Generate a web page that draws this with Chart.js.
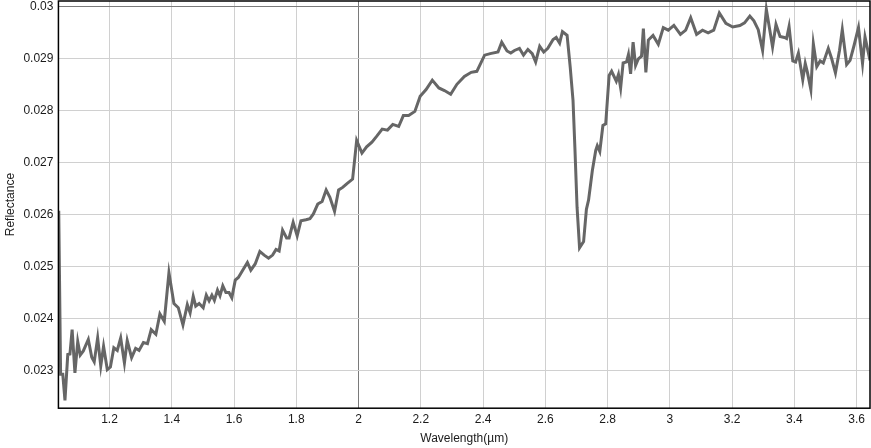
<!DOCTYPE html>
<html>
<head>
<meta charset="utf-8">
<script src="https://cdn.jsdelivr.net/npm/chart.js@4/dist/chart.umd.min.js"></script>
<style>
  html, body { margin: 0; padding: 0; background: #fff; }
  #wrap { width: 871px; height: 448px; }
</style>
</head>
<body>
<div id="wrap"><canvas id="spectrum" width="871" height="448"></canvas></div>
<script>
// Reflectance spectrum

const wavelength = [
  1.037, 1.043, 1.050, 1.057, 1.066, 1.073, 1.080, 1.089, 1.098, 1.106,
  1.116, 1.124, 1.132, 1.143, 1.151, 1.162, 1.172, 1.181, 1.193, 1.203,
  1.214, 1.225, 1.236, 1.248, 1.257, 1.271, 1.284, 1.295, 1.309, 1.322,
  1.334, 1.349, 1.362, 1.376, 1.391, 1.407, 1.421, 1.436, 1.450, 1.459,
  1.469, 1.477, 1.488, 1.501, 1.511, 1.520, 1.529, 1.537, 1.547, 1.555,
  1.564, 1.574, 1.584, 1.593, 1.604, 1.614, 1.627, 1.643, 1.654, 1.668,
  1.683, 1.697, 1.711, 1.724, 1.735, 1.745, 1.756, 1.769, 1.777, 1.790,
  1.803, 1.815, 1.831, 1.844, 1.855, 1.869, 1.883, 1.896, 1.908, 1.923,
  1.936, 1.949, 1.962, 1.981, 1.994, 2.011, 2.026, 2.043, 2.058, 2.076,
  2.093, 2.110, 2.129, 2.144, 2.161, 2.181, 2.198, 2.217, 2.237, 2.258,
  2.276, 2.296, 2.316, 2.340, 2.362, 2.380, 2.405, 2.423, 2.448, 2.460,
  2.477, 2.489, 2.501, 2.517, 2.530, 2.544, 2.558, 2.569, 2.582, 2.595,
  2.608, 2.625, 2.635, 2.646, 2.655, 2.670, 2.680, 2.689, 2.695, 2.702,
  2.710, 2.723, 2.732, 2.739, 2.751, 2.762, 2.767, 2.775, 2.785, 2.794,
  2.805, 2.813, 2.828, 2.835, 2.842, 2.850, 2.861, 2.867, 2.874, 2.882,
  2.890, 2.899, 2.909, 2.915, 2.923, 2.931, 2.946, 2.963, 2.979, 2.995,
  3.013, 3.034, 3.051, 3.067, 3.086, 3.105, 3.123, 3.141, 3.159, 3.180,
  3.202, 3.225, 3.240, 3.257, 3.270, 3.284, 3.298, 3.310, 3.322, 3.330,
  3.341, 3.354, 3.368, 3.375, 3.383, 3.395, 3.404, 3.413, 3.427, 3.435,
  3.442, 3.453, 3.461, 3.472, 3.483, 3.493, 3.509, 3.520, 3.532, 3.545,
  3.554, 3.568, 3.579, 3.592, 3.606, 3.619, 3.627, 3.643
];

const reflectance = [
  0.02607, 0.02293, 0.02293, 0.02243, 0.02331, 0.02332, 0.02379, 0.02296, 0.02356, 0.02330,
  0.02338, 0.02349, 0.02360, 0.02326, 0.02317, 0.02363, 0.02309, 0.02347, 0.02302, 0.02307,
  0.02344, 0.02339, 0.02363, 0.02315, 0.02358, 0.02325, 0.02343, 0.02339, 0.02354, 0.02352,
  0.02379, 0.02370, 0.02409, 0.02395, 0.02488, 0.02429, 0.02421, 0.02388, 0.02427, 0.02411,
  0.02443, 0.02424, 0.02429, 0.02421, 0.02445, 0.02434, 0.02445, 0.02435, 0.02455, 0.02444,
  0.02463, 0.02450, 0.02450, 0.02440, 0.02474, 0.02479, 0.02492, 0.02508, 0.02493, 0.02505,
  0.02529, 0.02522, 0.02516, 0.02522, 0.02533, 0.02530, 0.02570, 0.02555, 0.02555, 0.02585,
  0.02559, 0.02588, 0.02590, 0.02592, 0.02601, 0.02620, 0.02625, 0.02647, 0.02633, 0.02606,
  0.02647, 0.02652, 0.02659, 0.02668, 0.02742, 0.02718, 0.02730, 0.02739, 0.02750, 0.02764,
  0.02762, 0.02773, 0.02769, 0.02790, 0.02790, 0.02798, 0.02827, 0.02840, 0.02858, 0.02843,
  0.02838, 0.02831, 0.02850, 0.02865, 0.02873, 0.02875, 0.02906, 0.02909, 0.02912, 0.02931,
  0.02914, 0.02910, 0.02915, 0.02919, 0.02906, 0.02917, 0.02909, 0.02893, 0.02923, 0.02912,
  0.02919, 0.02936, 0.02940, 0.02929, 0.02951, 0.02944, 0.02883, 0.02819, 0.02729, 0.02614,
  0.02536, 0.02548, 0.02610, 0.02628, 0.02684, 0.02723, 0.02732, 0.02721, 0.02771, 0.02774,
  0.02867, 0.02875, 0.02856, 0.02869, 0.02843, 0.02891, 0.02893, 0.02907, 0.02870, 0.02931,
  0.02886, 0.02899, 0.02904, 0.02957, 0.02873, 0.02935, 0.02944, 0.02927, 0.02959, 0.02954,
  0.02963, 0.02946, 0.02954, 0.02978, 0.02946, 0.02954, 0.02949, 0.02954, 0.02987, 0.02967,
  0.02960, 0.02963, 0.02968, 0.02981, 0.02972, 0.02955, 0.02915, 0.02994, 0.02951, 0.02922,
  0.02965, 0.02942, 0.02940, 0.02938, 0.02961, 0.02895, 0.02893, 0.02910, 0.02859, 0.02890,
  0.02873, 0.02840, 0.02928, 0.02884, 0.02895, 0.02891, 0.02919, 0.02899, 0.02872, 0.02915,
  0.02955, 0.02888, 0.02896, 0.02925, 0.02959, 0.02890, 0.02941, 0.02896
];

// axis ranges / tick steps
const xRange = [1.036, 3.643];
const yRange = [0.02228, 0.0301];
const xStep = 0.2;
const yStep = 0.001;

const FONT = { family: "'Liberation Sans', Arial, sans-serif", size: 12 };
const TEXT = "#1a1a1a";

// black frame round the plot area
const frame = {
  id: "frame",
  afterDraw(chart) {
    const { ctx, chartArea: a } = chart;
    ctx.save();
    ctx.strokeStyle = "#000";
    ctx.lineWidth = 1.5;
    ctx.strokeRect(a.left, a.top, a.right - a.left, a.bottom - a.top);
    ctx.restore();
  }
};

function gridColor(ref) {
  return (c) => (c.tick && Math.abs(c.tick.value - ref) < 1e-9) ? "#7a7a7a" : "#d0d0d0";
}

new Chart(document.getElementById("spectrum"), {
  type: "line",
  data: {
    datasets: [{
      data: wavelength.map((w, i) => ({ x: w, y: reflectance[i] })),
      borderColor: "#666666",
      borderWidth: 3,
      pointRadius: 0,
      tension: 0,
      fill: false,
    }],
  },
  options: {
    responsive: false,
    animation: false,
    layout: { padding: { top: 1, right: 1, left: 0, bottom: 0 } },
    plugins: { legend: { display: false }, tooltip: { enabled: false } },
    scales: {
      x: {
        type: "linear",
        min: xRange[0],
        max: xRange[1],
        border: { display: false },
        grid: { color: gridColor(2), drawTicks: false, lineWidth: 1 },
        ticks: {
          stepSize: xStep,
          includeBounds: false,
          font: FONT,
          color: TEXT,
          padding: 4,
          maxRotation: 0,
          callback: (v) => Number(v.toFixed(1)).toString(),
        },
        title: { display: true, text: "Wavelength(µm)", font: FONT, color: TEXT, padding: { top: 1, bottom: 2 } },
      },
      y: {
        min: yRange[0],
        max: yRange[1],
        border: { display: false },
        grid: { color: gridColor(0.03), drawTicks: false, lineWidth: 1 },
        ticks: {
          stepSize: yStep,
          includeBounds: false,
          font: FONT,
          color: TEXT,
          padding: 5,
          callback: (v) => Number(v.toFixed(3)).toString(),
        },
        title: { display: true, text: "Reflectance", font: FONT, color: TEXT, padding: { top: 3, bottom: 1 } },
        // let the top label sit flush with the frame
        afterFit: (s) => { s.paddingTop = 0; s.paddingBottom = 0; },
      },
    },
  },
  plugins: [frame],
});
</script>
</body>
</html>
